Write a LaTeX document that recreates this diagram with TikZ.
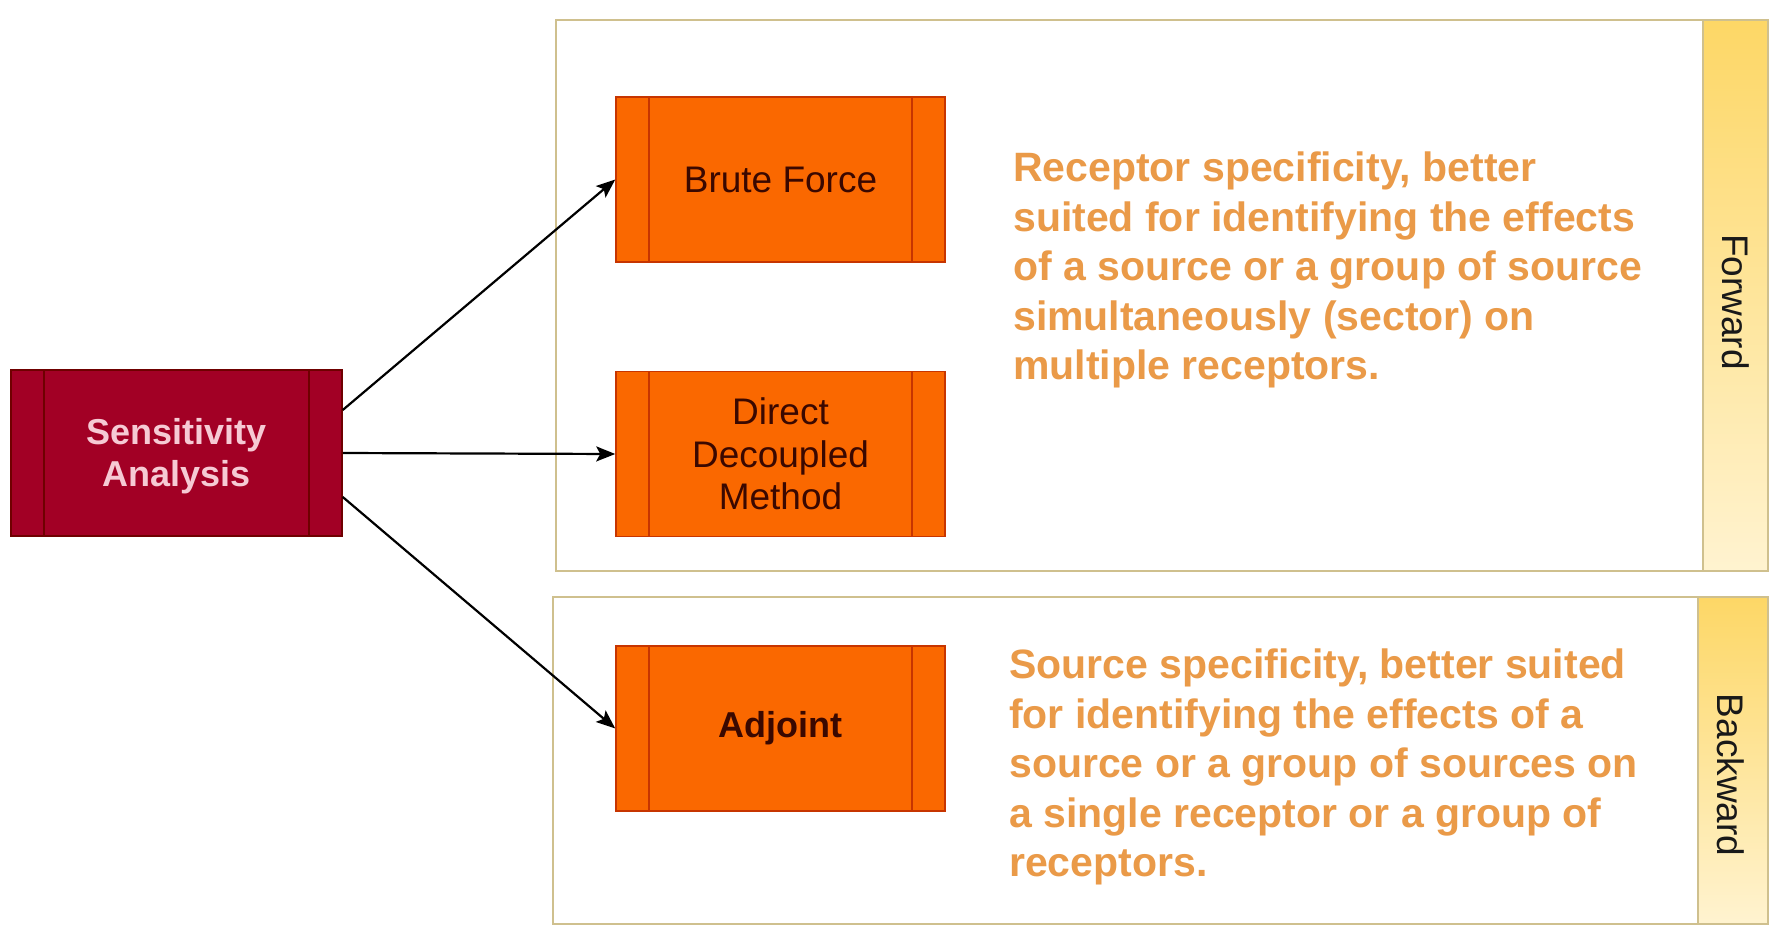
\documentclass[tikz,border=0pt]{standalone}
\usepackage{fontspec}
\setmainfont{Liberation Sans}
\usetikzlibrary{arrows.meta}
\definecolor{procfill}{HTML}{FA6800}
\definecolor{procline}{HTML}{C73500}
\definecolor{proctext}{HTML}{3A0800}
\definecolor{safill}{HTML}{A20025}
\definecolor{saline}{HTML}{6F0000}
\definecolor{satext}{HTML}{F6CAD4}
\definecolor{desctext}{HTML}{EA9A48}
\definecolor{laneline}{HTML}{CFC08E}
\definecolor{lanetop}{HTML}{FDD766}
\definecolor{lanebot}{HTML}{FFF3D0}
\begin{document}
\begin{tikzpicture}[x=1pt,y=-1pt,
  stripes/.style={path picture={
    \draw[#1,line width=1.5pt] ([xshift=33pt]path picture bounding box.north west) -- ([xshift=33pt]path picture bounding box.south west);
    \draw[#1,line width=1.5pt] ([xshift=-33pt]path picture bounding box.north east) -- ([xshift=-33pt]path picture bounding box.south east);}},
  proc/.style={draw=procline, fill=procfill, line width=1.5pt, minimum width=329pt, minimum height=165pt,
    text=proctext, align=center, inner sep=0pt, font=\fontsize{37}{42.5}\selectfont, stripes=procline},
  sabox/.style={draw=saline, fill=safill, line width=1.5pt, minimum width=331pt, minimum height=166pt,
    text=satext, align=center, inner sep=0pt, font=\bfseries\fontsize{36}{41.5}\selectfont, stripes=saline},
  lane/.style={draw=laneline, fill=white, line width=1.5pt},
  lanestrip/.style={draw=laneline, line width=1.5pt, top color=lanetop, bottom color=lanebot},
  lanelabel/.style={rotate=-90, text=black!90, font=\fontsize{37}{42}\selectfont, inner sep=0pt},
  desc/.style={text=desctext, align=left, inner sep=0pt, font=\bfseries\fontsize{41}{49.5}\selectfont},
  conn/.style={draw=black, line width=2.2pt, -{Stealth[length=19pt,width=15pt,inset=4pt]}}
]
\useasboundingbox (0,0) rectangle (1771,934);
\fill[white] (0,0) rectangle (1771,934);

% lanes
\draw[lane] (556,20) rectangle (1768,571);
\shade[lanestrip] (1703,20) rectangle (1768,571);
\draw[laneline,line width=1.5pt] (556,20) rectangle (1768,571);
\node[lanelabel] (fwdlabel) at (1736,302) {Forward};

\draw[lane] (553,597) rectangle (1768,924);
\shade[lanestrip] (1698,597) rectangle (1768,924);
\draw[laneline,line width=1.5pt] (553,597) rectangle (1768,924);
\node[lanelabel] (bwdlabel) at (1731,775) {Backward};

% boxes
\node[sabox] (sa) at (176.5,453) {\raisebox{-4pt}[\height][\depth]{\begin{tabular}{@{}c@{}}Sensitivity\\Analysis\end{tabular}}};
\node[proc] (bf) at (780.5,179.5) {Brute Force};
\node[proc] (ddm) at (780.5,454) {Direct\\Decoupled\\Method};
\node[proc, font=\bfseries\fontsize{36}{42}\selectfont] (adj) at (780.5,728.5) {Adjoint};

% descriptions
\node[desc, anchor=west] (fwddesc) at (1013,270) {Receptor specificity, better\\suited for identifying the effects\\of a source or a group of source\\simultaneously (sector) on\\multiple receptors.};
\node[desc, anchor=west] (bwddesc) at (1009,767) {Source specificity, better suited\\for identifying the effects of a\\source or a group of sources on\\a single receptor or a group of\\receptors.};

% connectors
\draw[conn] ([yshift=43pt]sa.east) -- (bf.west);
\draw[conn] (sa.east) -- (ddm.west);
\draw[conn] ([yshift=-44pt]sa.east) -- (adj.west);
\end{tikzpicture}
\end{document}
